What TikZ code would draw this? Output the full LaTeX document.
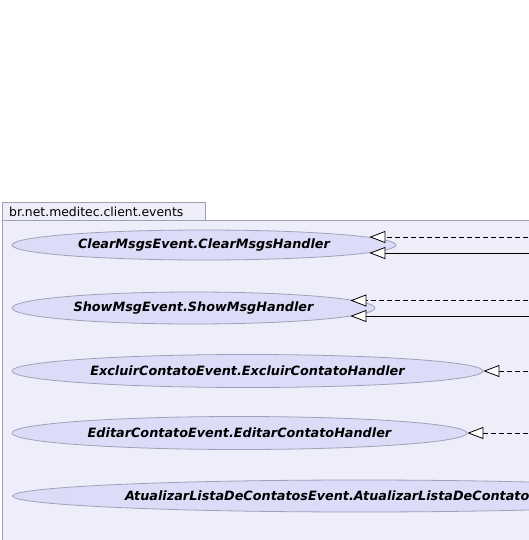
\documentclass[tikz,border=0pt]{standalone}
\usepackage{fontspec}
\setmainfont{DejaVu Sans}
\usetikzlibrary{shapes.geometric,arrows.meta}

\definecolor{pkgfill}{HTML}{EEEEFA}
\definecolor{pkgline}{HTML}{A0A0B4}
\definecolor{handlerfill}{HTML}{DCDCF8}
\definecolor{handlerline}{HTML}{A0A0B8}

\tikzset{
  handler/.style={ellipse, draw=handlerline, fill=handlerfill, inner sep=0pt, line width=0.8pt,
    font=\fontsize{12.8}{14}\selectfont\bfseries\itshape},
  realize/.style={-{Triangle[length=16pt,width=12pt,fill=white]}, black, line width=0.8pt},
  pkgbox/.style={draw=pkgline, fill=pkgfill, line width=0.8pt}
}

\begin{document}
\begin{tikzpicture}[x=1pt, y=-1pt]
      \useasboundingbox (0,0) rectangle (529,540);
      \fill[white] (0,0) rectangle (529,540);
      \clip (0,0) rectangle (529,540);

      % Draw the package tab and its body
      \draw[pkgbox] (2,220) rectangle (700,620);
      \draw[pkgbox] (2,202) rectangle (205,220);
      \node[anchor=west, inner sep=0pt, font=\fontsize{12.4}{14}\selectfont] (pkg) at (9,211.5)
        {br.net.meditec.client.events};

      % The handler classes
      \node[handler, minimum width=384pt, minimum height=30pt] (clear) at (204,245)
        {ClearMsgsEvent.ClearMsgsHandler};
      \node[handler, minimum width=363pt, minimum height=32pt] (show) at (193.5,308)
        {ShowMsgEvent.ShowMsgHandler};
      \node[handler, minimum width=471pt, minimum height=33pt] (excluir) at (247.5,371)
        {ExcluirContatoEvent.ExcluirContatoHandler};
      \node[handler, minimum width=455pt, minimum height=33pt] (editar) at (239.5,433)
        {EditarContatoEvent.EditarContatoHandler};
      \node[handler, minimum width=694pt, minimum height=32pt] (atualizar) at (359.5,496)
        {AtualizarListaDeContatosEvent.AtualizarListaDeContatosHandler};

      % Sources of the connectors lie outside the picture
      \coordinate (clearsrcA) at (560,237);
      \coordinate (clearsrcB) at (560,253);
      \coordinate (showsrcA) at (560,300.5);
      \coordinate (showsrcB) at (560,316);
      \coordinate (excluirsrc) at (560,371);
      \coordinate (editarsrc) at (560,433);

      % Add the realization arrows (they reach into the ellipse's rim)
      \draw[realize, dash pattern=on 5pt off 3pt, shorten >=-27pt] (clearsrcA) -- (clearsrcA -| clear.east);
      \draw[realize, shorten >=-27pt] (clearsrcB) -- (clearsrcB -| clear.east);
      \draw[realize, dash pattern=on 5pt off 3pt, shorten >=-25pt] (showsrcA) -- (showsrcA -| show.east);
      \draw[realize, shorten >=-25pt] (showsrcB) -- (showsrcB -| show.east);
      \draw[realize, dash pattern=on 5pt off 3pt] (excluirsrc) -- (excluir.east);
      \draw[realize, dash pattern=on 5pt off 3pt] (editarsrc) -- (editar.east);
    \end{tikzpicture}
\end{document}
